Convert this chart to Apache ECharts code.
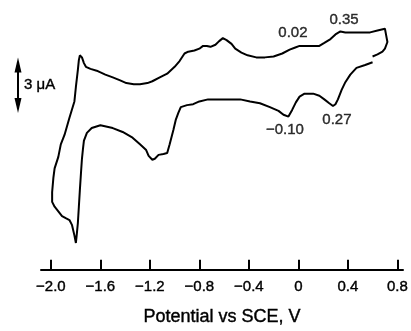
<!DOCTYPE html>
<html><head><meta charset="utf-8">
<script src="https://cdn.jsdelivr.net/npm/echarts@6/dist/echarts.min.js"></script>
<style>html,body{margin:0;padding:0;background:#fff}#c{width:411px;height:331px}</style>
</head><body><div id="c"></div>
<script>
// Potential (V vs SCE) and current (uA, arbitrary offset)
const potential = [
  0.60,0.54,0.47,0.42,0.38,0.35,0.32,0.30,0.28,0.25,
  0.21,0.17,0.12,0.05,0.01,-0.02,-0.05,-0.08,-0.12,-0.16,
  -0.23,-0.31,-0.39,-0.47,-0.59,-0.73,-0.80,-0.85,-0.90,-0.95,
  -0.97,-0.99,-1.01,-1.04,-1.06,-1.09,-1.13,-1.16,-1.18,-1.21,
  -1.23,-1.28,-1.34,-1.42,-1.50,-1.60,-1.67,-1.709,-1.733,-1.741,
  -1.749,-1.757,-1.766,-1.774,-1.782,-1.790,-1.798,-1.81,-1.83,-1.85,
  -1.88,-1.91,-1.94,-1.97,-1.99,-1.99,-1.98,-1.97,-1.94,-1.92,
  -1.89,-1.85,-1.81,-1.798,-1.782,-1.774,-1.766,-1.749,-1.733,-1.717,
  -1.68,-1.63,-1.56,-1.50,-1.44,-1.39,-1.33,-1.28,-1.22,-1.18,
  -1.12,-1.06,-1.00,-0.96,-0.92,-0.89,-0.84,-0.80,-0.77,-0.74,
  -0.71,-0.67,-0.64,-0.61,-0.58,-0.54,-0.51,-0.46,-0.41,-0.34,
  -0.27,-0.20,-0.13,-0.07,-0.03,0.01,0.05,0.12,0.17,0.21,
  0.26,0.30,0.34,0.38,0.43,0.51,0.58,0.64,0.70,0.71,
  0.72,0.70,0.68,0.64,0.60
];
const current = [
  3.22,3.07,2.91,2.55,2.14,1.72,1.21,0.95,0.85,1.00,
  1.21,1.41,1.52,1.52,1.36,1.05,0.64,0.28,0.38,0.59,
  0.79,1.00,1.10,1.21,1.21,1.21,1.10,0.95,0.90,0.79,
  0.48,0.12,-0.45,-1.22,-1.69,-1.74,-1.79,-2.00,-2.05,-1.84,
  -1.53,-1.22,-0.86,-0.55,-0.34,-0.19,-0.34,-0.60,-1.02,-1.48,
  -2.00,-2.78,-3.71,-4.59,-5.47,-6.03,-6.55,-6.14,-5.57,-5.31,
  -5.21,-5.10,-4.84,-4.59,-4.33,-3.81,-3.03,-2.52,-1.90,-1.22,
  -0.71,0.22,1.10,1.88,2.81,3.33,3.59,3.48,3.17,2.97,
  2.86,2.76,2.55,2.40,2.24,2.09,2.03,2.03,2.09,2.19,
  2.40,2.60,2.97,3.28,3.69,3.79,3.85,3.95,4.10,4.10,
  4.05,4.16,4.36,4.52,4.41,4.21,3.95,3.74,3.59,3.48,
  3.48,3.53,3.69,3.90,4.00,4.10,4.10,4.10,4.10,4.26,
  4.47,4.72,4.88,4.83,4.83,4.83,4.83,4.93,5.03,4.67,
  4.31,3.95,3.79,3.64,3.53
];
const tickValues = [-2.0,-1.6,-1.2,-0.8,-0.4,0,0.4,0.8];
const tickLabels = ['\u22122.0','\u22121.6','\u22121.2','\u22120.8','\u22120.4','0','0.4','0.8'];
const peakLabels = ['0.02','0.35','\u22120.10','0.27'];
const peakLabelX = [-0.044,0.369,-0.108,0.312];
const peakLabelY = [4.83,5.53,-0.45,0.12];
const scaleBarUA = 3;
const scaleBarTop = 3.48;
const scaleBarText = '3 \u03BCA';
const axisTitle = 'Potential vs SCE, V';

const font = '"Liberation Sans", Arial, Helvetica, sans-serif';
const ink = {color: '#000', textBorderColor: '#000', textBorderWidth: 0.4};
const chart = echarts.init(document.getElementById('c'), null, {renderer: 'canvas'});
chart.setOption({
  animation: false,
  backgroundColor: '#fff',
  grid: {left: 41, right: 8, top: 20, bottom: 50},
  xAxis: {
    type: 'value', min: -2.08, max: 0.846,
    name: axisTitle, nameLocation: 'middle', nameGap: 38,
    nameTextStyle: Object.assign({fontFamily: font, fontSize: 18}, ink),
    axisLine: {show: true, onZero: false, lineStyle: {color: '#000', width: 2}},
    axisTick: {show: true, inside: true, length: 10, lineStyle: {color: '#000', width: 2}, customValues: tickValues},
    axisLabel: Object.assign({
      customValues: tickValues,
      formatter: function (v) {
        const i = tickValues.findIndex(t => Math.abs(t - v) < 1e-6);
        return i >= 0 ? tickLabels[i] : '';
      },
      margin: 10, fontFamily: font, fontSize: 15
    }, ink),
    splitLine: {show: false}
  },
  yAxis: {type: 'value', min: -8, max: 5.5, show: false},
  series: [
    {
      type: 'line', data: potential.map((v, i) => [v, current[i]]),
      showSymbol: false, symbol: 'none', clip: false,
      lineStyle: {color: '#000', width: 2}
    },
    {
      type: 'scatter', data: peakLabelX.map((v, i) => [v, peakLabelY[i]]),
      symbolSize: 0, clip: false, silent: true,
      label: Object.assign({show: true, position: [0, 0], align: 'center', verticalAlign: 'middle',
        formatter: p => peakLabels[p.dataIndex],
        fontFamily: font, fontSize: 15}, ink)
    }
  ]
});

const yTop = chart.convertToPixel({yAxisIndex: 0}, scaleBarTop);
const yBot = chart.convertToPixel({yAxisIndex: 0}, scaleBarTop - scaleBarUA);
const bx = 18;
chart.setOption({
  graphic: [
    {type: 'line', shape: {x1: bx, y1: yTop + 8, x2: bx, y2: yBot - 8}, style: {stroke: '#000', lineWidth: 2}},
    {type: 'polygon', shape: {points: [[bx, yTop], [bx - 3.5, yTop + 15], [bx + 3.5, yTop + 15]]}, style: {fill: '#000'}},
    {type: 'polygon', shape: {points: [[bx, yBot], [bx - 3.5, yBot - 15], [bx + 3.5, yBot - 15]]}, style: {fill: '#000'}},
    {type: 'text', x: 24, y: (yTop + yBot) / 2, style: {text: scaleBarText, font: '15px ' + font, fill: '#000', stroke: '#000', lineWidth: 0.4, verticalAlign: 'middle', align: 'left'}}
  ]
});
</script>
</body></html>
